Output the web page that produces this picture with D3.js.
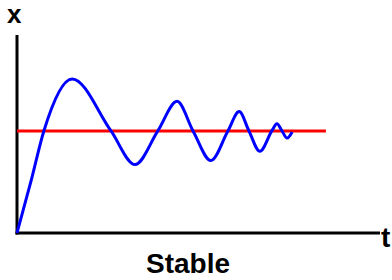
<!DOCTYPE html>
<html>
<head>
<meta charset="utf-8">
<script src="https://cdn.jsdelivr.net/npm/d3@7"></script>
<style>
  body { margin: 0; background: #fff; }
  text { font-family: 'Liberation Sans', Arial, sans-serif; font-weight: bold; }
</style>
</head>
<body>
<div id="chart"></div>
<script>
// response: time and value
let times = [0, 0.38, 0.74, 1.52, 2.59, 3.25, 3.88, 4.41, 4.85, 5.34, 5.81, 6.12, 6.39, 6.69, 7.02, 7.16, 7.3, 7.44, 7.58]
let values = [0, 0.5, 1, 1.51, 1, 0.67, 1, 1.29, 1, 0.71, 1, 1.19, 1, 0.8, 1, 1.07, 1, 0.93, 0.99]

// set point line
let setPoint = 1
let setPointEnd = 8.51

let xLabel = 't'
let yLabel = 'x'
let title = 'Stable'

let width = 392
let height = 280

let svg = d3
  .select('#chart')
  .append('svg')
  .attr('width', width)
  .attr('height', height)

let xPositionScale = d3.scaleLinear().domain([0, 10]).range([17, 380])
let yPositionScale = d3.scaleLinear().domain([0, 1.94]).range([233, 35])

let points = times.map((t, i) => ({ t: t, v: values[i] }))

// axes
svg
  .append('line')
  .attr('x1', xPositionScale(0))
  .attr('x2', xPositionScale(0))
  .attr('y1', yPositionScale(0) + 1.5)
  .attr('y2', yPositionScale(1.94))
  .attr('stroke', 'black')
  .attr('stroke-width', 3)

svg
  .append('line')
  .attr('x1', xPositionScale(0) - 1.5)
  .attr('x2', xPositionScale(10))
  .attr('y1', yPositionScale(0))
  .attr('y2', yPositionScale(0))
  .attr('stroke', 'black')
  .attr('stroke-width', 3)

// set point
svg
  .append('line')
  .attr('x1', xPositionScale(0))
  .attr('x2', xPositionScale(setPointEnd))
  .attr('y1', yPositionScale(setPoint))
  .attr('y2', yPositionScale(setPoint))
  .attr('stroke', '#ff0000')
  .attr('stroke-width', 3)

let line = d3
  .line()
  .x(d => xPositionScale(d.t))
  .y(d => yPositionScale(d.v))
  .curve(d3.curveMonotoneX)

svg
  .append('path')
  .datum(points)
  .attr('d', line)
  .attr('fill', 'none')
  .attr('stroke', '#0000ff')
  .attr('stroke-width', 3)

svg
  .append('text')
  .attr('x', 7)
  .attr('y', 23)
  .attr('font-size', 26)
  .text(yLabel)

svg
  .append('text')
  .attr('x', 381)
  .attr('y', 247)
  .attr('font-size', 28)
  .text(xLabel)

svg
  .append('text')
  .attr('x', 188)
  .attr('y', 273)
  .attr('text-anchor', 'middle')
  .attr('font-size', 28)
  .text(title)
</script>
</body>
</html>
